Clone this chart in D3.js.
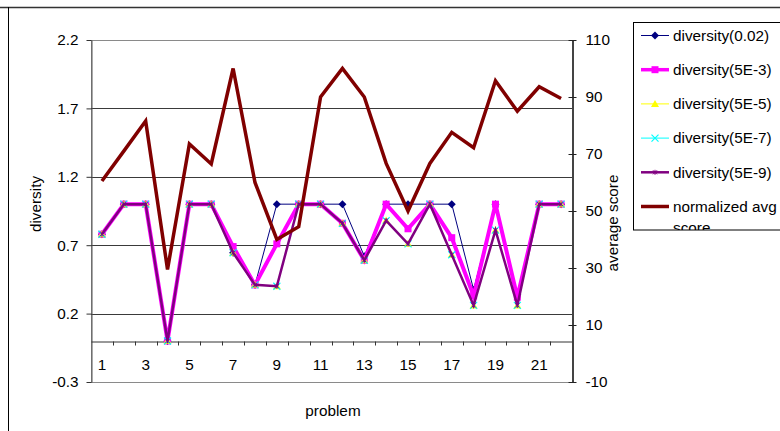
<!DOCTYPE html>
<html><head><meta charset="utf-8">
<script src="https://cdn.jsdelivr.net/npm/d3@7"></script>
<style>body{margin:0;background:#fff}svg{display:block}text{font-family:"Liberation Sans",Arial,sans-serif;}</style>
</head><body>
<svg id="c" width="780" height="431"></svg>
<script>
const categories = [1,2,3,4,5,6,7,8,9,10,11,12,13,14,15,16,17,18,19,20,21,22];
const div002 = [0.78,1,1,0,1,1,0.645,0.41,1,1,1,1,0.62,1,1,1,1,0.375,1,0.34,1,1];
const div5e3 = [0.78,1,1,0,1,1,0.69,0.41,0.71,1,1,0.86,0.59,1,0.82,1,0.755,0.33,1,0.32,1,1];
const div5e5 = [0.78,1,1,0,1,1,0.645,0.41,0.40,1,1,0.86,0.59,0.88,0.71,1,0.63,0.26,0.81,0.26,1,1];
const div5e7 = [0.78,1,1,0,1,1,0.645,0.41,0.40,1,1,0.86,0.59,0.88,0.71,1,0.63,0.26,0.81,0.26,1,1];
const div5e9 = [0.78,1,1,0,1,1,0.645,0.41,0.40,1,1,0.86,0.59,0.88,0.71,1,0.63,0.26,0.81,0.26,1,1];
const avgScore = [60.5,71,81.6,29.5,73.5,66.5,100,60,40,44.5,90,100,90,66.7,50,66.7,77.6,72.2,95.7,85,93.6,89.5];
const leftTicks = [-0.3,0.2,0.7,1.2,1.7,2.2];
const rightTicks = [-10,10,30,50,70,90,110];
const xLabels = [1,3,5,7,9,11,13,15,17,19,21];
const seriesNames = ["diversity(0.02)","diversity(5E-3)","diversity(5E-5)","diversity(5E-7)","diversity(5E-9)"];
const avgName = ["normalized avg","score"];

const svg = d3.select("#c");
const L=91, R=572, T=40, B=382;
const x = d3.scaleBand().domain(categories).range([L,R]);
const cx = d => x(d)+x.bandwidth()/2;
const yL = d3.scaleLinear().domain([-0.3,2.2]).range([B,T]);
const yR = d3.scaleLinear().domain([-10,110]).range([B,T]);
const FS = "15.3px";

// outer chart border
svg.append("line").attr("x1",0).attr("x2",780).attr("y1",7.5).attr("y2",7.5).attr("stroke","#333").attr("stroke-width",1.5);
svg.append("line").attr("x1",8.5).attr("x2",8.5).attr("y1",7).attr("y2",431).attr("stroke","#000");

// plot border
svg.append("rect").attr("x",L+0.5).attr("y",T+0.5).attr("width",R-L).attr("height",B-T).attr("fill","none").attr("stroke","#8a8a8a");
// gridlines
svg.append("g").selectAll("line").data(leftTicks.slice(1,-1)).join("line")
  .attr("x1",L).attr("x2",R).attr("y1",d=>Math.round(yL(d))+0.5).attr("y2",d=>Math.round(yL(d))+0.5)
  .attr("stroke","#3a3a3a");

// left axis
const ga = svg.append("g").attr("transform",`translate(${L+0.5},0)`)
  .call(d3.axisLeft(yL).tickValues(leftTicks).tickSize(5).tickSizeOuter(0).tickPadding(8).tickFormat(d=>d.toFixed(1).replace("\u2212","-")));
ga.select(".domain").attr("stroke","#555");
ga.selectAll(".tick line").attr("stroke","#333");
ga.selectAll("text").attr("font-size",FS).attr("fill","#000").style("font-family","Liberation Sans, Arial");

// right axis
const gr = svg.append("g").attr("transform",`translate(${R+0.5},0)`)
  .call(d3.axisRight(yR).tickValues(rightTicks).tickSize(4).tickSizeOuter(0).tickPadding(9).tickFormat(d=>String(d)));
gr.select(".domain").attr("stroke","#444").attr("stroke-width",2);
gr.selectAll(".tick line").attr("x1",-4).attr("stroke","#222");
gr.selectAll("text").attr("font-size",FS).attr("fill","#000").style("font-family","Liberation Sans, Arial");

// x axis at 0
const y0 = Math.round(yL(0))+0.5;
const gx = svg.append("g").attr("transform",`translate(0,${y0})`)
  .call(d3.axisBottom(x).tickSize(0).tickSizeOuter(0).tickPadding(18).tickFormat(d=>xLabels.includes(d)?String(d):""));
gx.select(".domain").attr("stroke","#333");
gx.selectAll("text").attr("font-size",FS).attr("fill","#000").style("font-family","Liberation Sans, Arial");
svg.append("g").selectAll("line").data(categories.slice(1)).join("line")
  .attr("x1",d=>Math.round(x(d))+0.5).attr("x2",d=>Math.round(x(d))+0.5).attr("y1",y0).attr("y2",y0+4).attr("stroke","#333");

// axis titles
svg.append("text").attr("transform","translate(36,204) rotate(-90)").attr("text-anchor","middle").attr("dy","0.35em").attr("font-size",FS).text("diversity");
svg.append("text").attr("transform","translate(613,223) rotate(-90)").attr("text-anchor","middle").attr("dy","0.35em").attr("font-size",FS).text("average score");
svg.append("text").attr("x",333).attr("y",411).attr("text-anchor","middle").attr("dy","0.35em").attr("font-size",FS).text("problem");

// markers
function marker(g, kind, px, py){
  if(kind==="diamond") g.append("path").attr("d",`M${px},${py-4}L${px+4},${py}L${px},${py+4}L${px-4},${py}Z`).attr("fill","#000080");
  else if(kind==="square") g.append("rect").attr("x",px-3.5).attr("y",py-3.5).attr("width",7).attr("height",7).attr("fill","#ff00ff");
  else if(kind==="triangle") g.append("path").attr("d",`M${px},${py-4}L${px+4},${py+3}L${px-4},${py+3}Z`).attr("fill","#ffff00");
  else if(kind==="x") g.append("path").attr("d",`M${px-3.5},${py-3.5}L${px+3.5},${py+3.5}M${px+3.5},${py-3.5}L${px-3.5},${py+3.5}`).attr("stroke","#00ffff").attr("stroke-width",1.2);
  else if(kind==="star") g.append("path").attr("d",`M${px-2},${py-2}L${px+2},${py+2}M${px+2},${py-2}L${px-2},${py+2}M${px},${py-2.5}L${px},${py+2.5}`).attr("stroke","#800080").attr("stroke-width",1);
}

const series = [
  {vals:div002,color:"#000080",w:1,m:"diamond"},
  {vals:div5e3,color:"#ff00ff",w:4,m:"square"},
  {vals:div5e5,color:"#ffff00",w:1,m:"triangle"},
  {vals:div5e7,color:"#00ffff",w:1,m:"x"},
  {vals:div5e9,color:"#800080",w:2.5,m:"star"}
];
const lineL = d3.line().x((d,i)=>cx(categories[i])).y(d=>yL(d));
series.forEach(s=>{
  const g = svg.append("g");
  g.append("path").attr("d",lineL(s.vals)).attr("fill","none").attr("stroke",s.color).attr("stroke-width",s.w).attr("stroke-linejoin","miter");
  s.vals.forEach((v,i)=>marker(g,s.m,cx(categories[i]),yL(v)));
});
const lineR = d3.line().x((d,i)=>cx(categories[i])).y(d=>yR(d));
svg.append("path").attr("d",lineR(avgScore)).attr("fill","none").attr("stroke","#800000").attr("stroke-width",3.5);

// legend
const lg = svg.append("g");
lg.append("clipPath").attr("id","lgclip").append("rect").attr("x",633).attr("y",22).attr("width",160).attr("height",208);
lg.append("rect").attr("x",633.5).attr("y",22.5).attr("width",160).attr("height",207.5).attr("fill","#fff").attr("stroke","#000");
const rowY = i => 35.5 + i*34.2;
series.forEach((s,i)=>{
  const yy = rowY(i);
  lg.append("line").attr("x1",641).attr("x2",669).attr("y1",yy).attr("y2",yy).attr("stroke",s.color).attr("stroke-width",s.w===4?3.5:s.w);
  marker(lg,s.m,655,yy);
  lg.append("text").attr("x",673).attr("y",yy).attr("dy","0.35em").attr("font-size",FS).text(seriesNames[i]);
});
{
  const yy = rowY(5);
  lg.append("line").attr("x1",641).attr("x2",669).attr("y1",yy).attr("y2",yy).attr("stroke","#800000").attr("stroke-width",3.5);
  const t = lg.append("text").attr("x",673).attr("y",yy).attr("dy","0.35em").attr("font-size",FS).attr("clip-path","url(#lgclip)");
  t.append("tspan").attr("x",673).text(avgName[0]);
  t.append("tspan").attr("x",673).attr("dy","1.35em").text(avgName[1]);
}
</script>
</body></html>
